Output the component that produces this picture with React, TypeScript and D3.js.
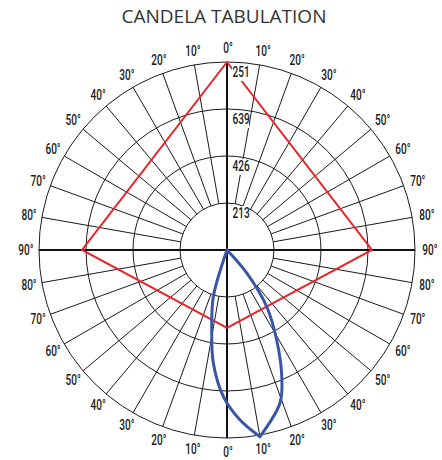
import { useEffect, useRef } from 'react';
import * as d3 from 'd3';

// candela rings (value -> label as printed on the chart)
const ringValues = [213, 426, 639, 852];
const ringLabels = ['213', '426', '639', '251'];

// angle labels, degrees from nadir
const angleTicks = [0, 10, 20, 30, 40, 50, 60, 70, 80, 90];
const gridAngles = d3.range(-170, 190, 10);

// red distribution (angle from nadir, + to the right)
const redAngles = [180, 90, 0, -90, -180];
const redValues = [852, 657, 353, 657, 852];

// blue lobe, left branch and right branch meet at the peak
const blueAngles = [-20, -16.3, -10.8, -6.9, -1.4, 4.4, 10, 19.1, 23.4, 28.9, 35, 40.6, 45];
const blueValues = [0, 221, 369, 516, 665, 773, 859, 734, 625, 466, 314, 137, 0];
const bluePeak = 6;

const labelFont = "Roboto, sans-serif";
const squeeze = 0.72; // the original uses a condensed face

const App = () => {
  const svgRef = useRef<SVGSVGElement>(null);

  const width = 442;
  const height = 460;
  const cx = 227;
  const cy = 250;

  useEffect(() => {
    if (!svgRef.current) return;

    d3.select(svgRef.current).selectAll('*').remove();

    const canvas = d3.select(svgRef.current)
      .attr('width', width)
      .attr('height', height);

    canvas.append('rect')
      .attr('width', width)
      .attr('height', height)
      .attr('fill', 'white');

    // Title
    canvas.append('text')
      .attr('x', 224)
      .attr('y', 23)
      .attr('text-anchor', 'middle')
      .style('font-family', "'Open Sans', sans-serif")
      .style('font-size', '19px')
      .style('fill', '#333')
      .text('CANDELA TABULATION');

    const rScale = d3.scaleLinear().domain([0, 852]).range([0, 188]);
    const rMin = rScale(ringValues[0]);
    const rMax = rScale(ringValues[ringValues.length - 1]);

    const px = (deg: number, r: number) => cx + r * Math.sin((deg * Math.PI) / 180);
    const py = (deg: number, r: number) => cy + r * Math.cos((deg * Math.PI) / 180);

    const g = canvas.append('g');

    // Rings
    g.selectAll('.ring')
      .data(ringValues)
      .enter().append('circle')
      .attr('class', 'ring')
      .attr('cx', cx)
      .attr('cy', cy)
      .attr('r', (d) => rScale(d))
      .attr('fill', 'none')
      .style('stroke', '#1a1a1a')
      .style('stroke-width', '1px');

    // Spokes every 10 degrees, inner ring to outer ring
    g.selectAll('.spoke')
      .data(gridAngles.filter((a) => a % 90 !== 0))
      .enter().append('line')
      .attr('class', 'spoke')
      .attr('x1', (d) => px(d, rMin))
      .attr('y1', (d) => py(d, rMin))
      .attr('x2', (d) => px(d, rMax))
      .attr('y2', (d) => py(d, rMax))
      .style('stroke', '#1a1a1a')
      .style('stroke-width', '1px');

    // Main axes
    g.append('line')
      .attr('x1', cx).attr('y1', cy - rMax)
      .attr('x2', cx).attr('y2', cy + rMax)
      .style('stroke', '#111')
      .style('stroke-width', '2px');
    g.append('line')
      .attr('x1', cx - rMax).attr('y1', cy)
      .attr('x2', cx + rMax).attr('y2', cy)
      .style('stroke', '#111')
      .style('stroke-width', '2px');

    // Angle labels
    const labelData: { deg: number; text: string }[] = [];
    angleTicks.forEach((t) => {
      labelData.push({ deg: t, text: `${t}°` });
      if (t !== 0) labelData.push({ deg: -t, text: `${t}°` });
      if (t !== 90) {
        labelData.push({ deg: 180 - t, text: `${t}°` });
        if (t !== 0) labelData.push({ deg: -(180 - t), text: `${t}°` });
      }
    });

    canvas.selectAll('.angleLabel')
      .data(labelData)
      .enter().append('text')
      .attr('class', 'angleLabel')
      .attr('transform', (d) => `translate(${px(d.deg, 202) + 1},${py(d.deg, 202)}) scale(${squeeze},1)`)
      .attr('dy', '0.36em')
      .attr('text-anchor', 'middle')
      .style('font-family', labelFont)
      .style('font-weight', '500')
      .style('font-size', '14px')
      .style('fill', '#1a1a1a')
      .text((d) => d.text);

    // Red distribution
    const radial = d3.lineRadial<number>()
      .angle((d, i) => Math.PI - (redAngles[i] * Math.PI) / 180)
      .radius((d) => rScale(d));

    canvas.append('path')
      .datum(redValues)
      .attr('transform', `translate(${cx},${cy})`)
      .attr('d', radial)
      .attr('fill', 'none')
      .style('stroke', '#ec2227')
      .style('stroke-width', '2px')
      .style('stroke-linejoin', 'miter');

    // Ring value labels (white box behind)
    const labels = canvas.selectAll('.ringLabel')
      .data(ringValues)
      .enter().append('g')
      .attr('class', 'ringLabel')
      .attr('transform', (d) => `translate(${cx + 5},${cy - rScale(d) + 15})`);

    labels.append('rect')
      .attr('x', 0)
      .attr('y', -12)
      .attr('width', 17)
      .attr('height', 16)
      .attr('fill', 'white');

    labels.append('text')
      .attr('transform', `translate(0.5,0) scale(${squeeze},1)`)
      .style('font-family', labelFont)
      .style('font-weight', '500')
      .style('font-size', '14px')
      .style('fill', '#1a1a1a')
      .text((d, i) => ringLabels[i]);

    // Blue lobe
    const bluePts = blueAngles.map((a, i) => [a, blueValues[i]] as [number, number]);
    const blueLine = d3.lineRadial<[number, number]>()
      .angle((d) => Math.PI - (d[0] * Math.PI) / 180)
      .radius((d) => rScale(d[1]))
      .curve(d3.curveCatmullRom.alpha(0.5));

    const branches = [bluePts.slice(0, bluePeak + 1), bluePts.slice(bluePeak)];
    canvas.selectAll('.lobe')
      .data(branches)
      .enter().append('path')
      .attr('class', 'lobe')
      .attr('transform', `translate(${cx},${cy})`)
      .attr('d', (d) => blueLine(d))
      .attr('fill', 'none')
      .style('stroke', '#3a55a5')
      .style('stroke-width', '3px')
      .style('stroke-linecap', 'round');
  }, []);

  return (
    <svg ref={svgRef} style={{ position: 'absolute', left: 0, top: 0, display: 'block' }}></svg>
  );
};

export default App;
